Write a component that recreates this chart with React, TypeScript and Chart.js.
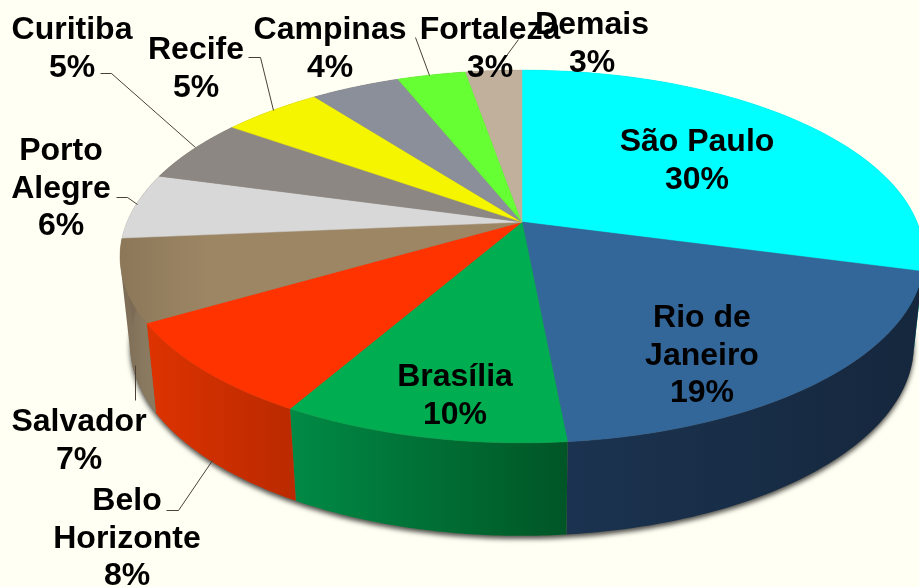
import React, { useEffect, useRef } from "react";
import { Chart, registerables } from "chart.js";

Chart.register(...registerables);

const categories = ["São Paulo", "Rio de Janeiro", "Brasília", "Belo Horizonte", "Salvador", "Porto Alegre", "Curitiba", "Recife", "Campinas", "Fortaleza", "Demais"];
const sliceValues = [29.2, 19.3, 9.7, 8.3, 7.1, 5.7, 5.6, 4.8, 4.3, 3.3, 2.7];
const percentLabels = ["30%", "19%", "10%", "8%", "7%", "6%", "5%", "5%", "4%", "3%", "3%"];
const topColors = ["#00FFFF", "#336699", "#00AD50", "#FF3300", "#9C8664", "#D8D8D8", "#8C8782", "#F5F500", "#8A8F99", "#66FF33", "#C0B09C"];
const wallLeftColors = ["#00AAAA", "#1B3350", "#008A45", "#DD3300", "#7C6C56", "#7C6C56", "#7C6C56", "#7C6C56", "#7C6C56", "#7C6C56", "#7C6C56"];
const wallRightColors = ["#009999", "#15273D", "#005526", "#BB2A00", "#8A7A60", "#7C6C56", "#7C6C56", "#7C6C56", "#7C6C56", "#7C6C56", "#7C6C56"];

const textBlocks: { name: string[]; cx: number; y: number }[] = [
  { name: ["São Paulo"], cx: 697, y: 151 },
  { name: ["Rio de", "Janeiro"], cx: 702, y: 327 },
  { name: ["Brasília"], cx: 455, y: 386 },
  { name: ["Belo", "Horizonte"], cx: 127, y: 510 },
  { name: ["Salvador"], cx: 79, y: 431 },
  { name: ["Porto", "Alegre"], cx: 61, y: 160 },
  { name: ["Curitiba"], cx: 72, y: 39 },
  { name: ["Recife"], cx: 196, y: 59 },
  { name: ["Campinas"], cx: 330, y: 39 },
  { name: ["Fortaleza"], cx: 490, y: 39 },
  { name: ["Demais"], cx: 592, y: 34 },
];

const leaders: number[][] = [
  [100, 73, 111, 73, 195, 147],
  [248, 57, 260, 57, 273, 110],
  [116, 197, 127, 197, 137, 204],
  [415, 37, 429, 75],
  [518, 39, 493, 73],
  [135, 365, 135, 400],
  [166, 510, 178, 510, 212, 460],
];

const CX = 522, CY = 222, RX = 395, RY = 180, PERSP = 0.185;

function top(theta: number) {
  const u = Math.sin(theta), v = Math.cos(theta), w = 1 + PERSP * v;
  return { x: CX + (RX * u) / w, y: CY - (RY * v) / w };
}
function bottom(theta: number) {
  const p = top(theta);
  return { x: CX + (p.x - CX) * 0.975, y: p.y + 93 - 0.025 * (443 - p.y) };
}

const pie3d = {
  id: "pie3d",
  beforeDatasetsDraw(chart: any) {
    const ctx: CanvasRenderingContext2D = chart.ctx;
    const arcs = chart.getDatasetMeta(0).data;
    const angles = arcs.map((a: any) => [a.startAngle + Math.PI / 2, a.endAngle + Math.PI / 2]);

    ctx.save();
    // soft shadow below the base
    ctx.save();
    ctx.shadowColor = "rgba(0,0,0,0.7)";
    ctx.shadowBlur = 5;
    ctx.shadowOffsetY = 3;
    ctx.shadowOffsetX = 0;
    ctx.fillStyle = "#7C6C56";
    ctx.beginPath();
    for (let i = 0; i <= 360; i++) {
      const p = bottom((i / 180) * Math.PI);
      i ? ctx.lineTo(p.x, p.y) : ctx.moveTo(p.x, p.y);
    }
    ctx.closePath();
    ctx.fill();
    ctx.restore();

    // walls: quads wound the same way in one path, so the fold at the silhouette stays filled
    angles.forEach(([s, e]: number[], i: number) => {
      const n = 60;
      const a = top(s), b = top(e);
      const g = ctx.createLinearGradient(Math.min(a.x, b.x), 0, Math.max(a.x, b.x), 0);
      g.addColorStop(0, wallLeftColors[i]);
      g.addColorStop(1, wallRightColors[i]);
      ctx.fillStyle = g;
      ctx.beginPath();
      for (let k = 0; k < n; k++) {
        const t0 = s + ((e - s) * k) / n, t1 = s + ((e - s) * (k + 1)) / n;
        const quad = [top(t0), top(t1), bottom(t1), bottom(t0)];
        let area = 0;
        quad.forEach((p, j) => {
          const q = quad[(j + 1) % 4];
          area += p.x * q.y - q.x * p.y;
        });
        if (area < 0) quad.reverse();
        ctx.moveTo(quad[0].x, quad[0].y);
        for (let j = 1; j < 4; j++) ctx.lineTo(quad[j].x, quad[j].y);
        ctx.closePath();
      }
      ctx.fill("nonzero");
    });

    // top faces
    arcs.forEach((arc: any, i: number) => {
      const [s, e] = angles[i];
      const n = 80;
      ctx.fillStyle = arc.options.backgroundColor;
      ctx.strokeStyle = arc.options.backgroundColor;
      ctx.lineWidth = 0.5;
      ctx.beginPath();
      ctx.moveTo(CX, CY);
      for (let k = 0; k <= n; k++) {
        const p = top(s + ((e - s) * k) / n);
        ctx.lineTo(p.x, p.y);
      }
      ctx.closePath();
      if (i === 4) {
        const g = ctx.createLinearGradient(120, 0, 210, 0);
        g.addColorStop(0, "#8C7859");
        g.addColorStop(1, "#9C8664");
        ctx.fillStyle = g;
        ctx.strokeStyle = g;
      }
      ctx.fill();
      ctx.stroke();
    });
    ctx.restore();
    return false;
  },
  afterDraw(chart: any) {
    const ctx: CanvasRenderingContext2D = chart.ctx;
    ctx.save();
    ctx.strokeStyle = "#4A4038";
    ctx.lineWidth = 1;
    leaders.forEach((pts) => {
      ctx.beginPath();
      ctx.moveTo(pts[0] + 0.5, pts[1] + 0.5);
      for (let i = 2; i < pts.length; i += 2) ctx.lineTo(pts[i] + 0.5, pts[i + 1] + 0.5);
      ctx.stroke();
    });
    ctx.fillStyle = "#000";
    ctx.font = 'bold 32px "Liberation Sans", Arial, sans-serif';
    ctx.textAlign = "center";
    ctx.textBaseline = "alphabetic";
    textBlocks.forEach((b, idx) => {
      [...b.name, percentLabels[idx]].forEach((line, i) => ctx.fillText(line, b.cx, b.y + i * 37.5));
    });
    ctx.restore();
  },
};

export default function App() {
  const ref = useRef<HTMLCanvasElement>(null);
  useEffect(() => {
    document.body.style.margin = "0";
    document.body.style.background = "#FFFFF3";
    const chart = new Chart(ref.current!, {
      type: "pie",
      data: {
        labels: categories,
        datasets: [{ data: sliceValues, backgroundColor: topColors, borderWidth: 0 }],
      },
      options: {
        responsive: false,
        animation: false,
        plugins: { legend: { display: false }, tooltip: { enabled: false } },
      },
      plugins: [pie3d],
    } as any);
    return () => chart.destroy();
  }, []);
  return (
    <div style={{ width: 919, height: 587, overflow: "hidden", background: "#FFFFF3" }}>
      <canvas ref={ref} width={919} height={587} style={{ display: "block" }} />
    </div>
  );
}
